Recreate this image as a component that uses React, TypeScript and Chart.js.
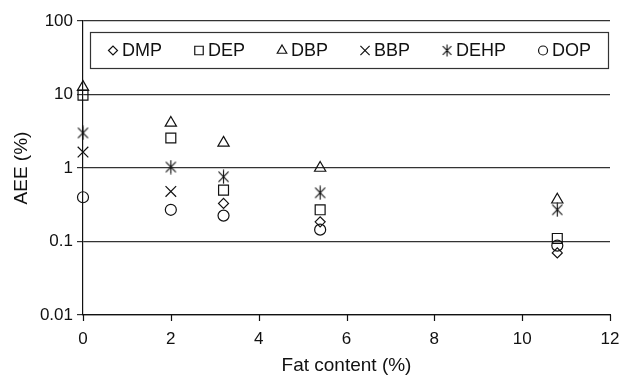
import React, { useEffect, useRef } from "react";
import { Chart, registerables } from "chart.js";
import { drawPoint } from "chart.js/helpers";

Chart.register(...registerables);

const fatContent = [0, 2, 3.2, 5.4, 10.8];
const seriesNames = ["DMP", "DEP", "DBP", "BBP", "DEHP", "DOP"];
const dmp = [null, null, 0.33, 0.185, 0.07];
const dep = [9.8, 2.56, 0.5, 0.27, 0.11];
const dbp = [12.6, 4.1, 2.2, 1.0, 0.37];
const bbp = [1.65, 0.48, null, null, null];
const dehp = [3.0, 1.03, 0.76, 0.46, 0.27];
const dop = [0.4, 0.27, 0.225, 0.145, 0.088];
const yTicks = [0.01, 0.1, 1, 10, 100];
const xTicks = [0, 2, 4, 6, 8, 10, 12];

const FONT = "'Liberation Sans', Arial, Helvetica, sans-serif";
const INK = "#111";

function asteriskCanvas(size: number, lw: number) {
  const c = document.createElement("canvas");
  c.width = size;
  c.height = size;
  const g = c.getContext("2d")!;
  g.strokeStyle = "#111";
  g.lineWidth = lw;
  const m = size / 2;
  const r = size / 2 - 0.5;
  const d = r * 0.72;
  g.beginPath();
  g.moveTo(m, m - r);
  g.lineTo(m, m + r);
  g.moveTo(m - d, m - d);
  g.lineTo(m + d, m + d);
  g.moveTo(m + d, m - d);
  g.lineTo(m - d, m + d);
  g.stroke();
  return c;
}

export default function App() {
  const ref = useRef<HTMLCanvasElement | null>(null);
  useEffect(() => {
    if (!ref.current) return;
    const star = asteriskCanvas(15, 1.15);
    const starSmall = asteriskCanvas(13, 1.1);
    const styles: any[] = ["rectRot", "rect", "triangle", "crossRot", star, "circle"];
    const radii = [5, 7, 6.5, 7.5, 7, 5.5];
    const legendStyles: any[] = ["rectRot", "rect", "triangle", "crossRot", starSmall, "circle"];
    const legendRadii = [4.5, 6, 5.5, 6.5, 6, 4.5];
    const values = [dmp, dep, dbp, bbp, dehp, dop];

    const datasets = seriesNames.map((name, i) => ({
      label: name,
      data: fatContent.map((x, j) => ({ x, y: values[i][j] })).filter((p) => p.y !== null),
      pointStyle: styles[i],
      pointRadius: radii[i],
      pointBorderColor: INK,
      pointBackgroundColor: "rgba(0,0,0,0)",
      pointBorderWidth: 1.2,
      showLine: false,
      clip: false,
    }));

    const decorPlugin = {
      id: "decor",
      afterDraw(chart: any) {
        const ctx = chart.ctx;
        const xs = chart.scales.x;
        const area = chart.chartArea;
        ctx.save();
        ctx.strokeStyle = INK;
        ctx.lineWidth = 1.2;
        ctx.beginPath();
        xTicks.forEach((v) => {
          const px = Math.round(xs.getPixelForValue(v)) + 0.5;
          ctx.moveTo(px, area.bottom);
          ctx.lineTo(px, area.bottom + 6);
        });
        ctx.stroke();
        ctx.fillStyle = "#fff";
        ctx.fillRect(90.5, 32.5, 518, 36);
        ctx.strokeStyle = "#333";
        ctx.lineWidth = 1.2;
        ctx.strokeRect(90.5, 32.5, 518, 36);
        ctx.font = `18px ${FONT}`;
        ctx.textBaseline = "middle";
        let x = 113;
        const y = 50.5;
        seriesNames.forEach((name, i) => {
          ctx.strokeStyle = INK;
          ctx.fillStyle = "rgba(0,0,0,0)";
          ctx.lineWidth = 1.2;
          drawPoint(ctx, { pointStyle: legendStyles[i], radius: legendRadii[i], rotation: 0, borderWidth: 1.2 } as any, x, y);
          ctx.fillStyle = INK;
          ctx.fillText(name, x + 9, y + 1);
          const w = ctx.measureText(name).width;
          x = x + 9 + w + 37;
        });
        ctx.restore();
      },
    };

    const chart = new Chart(ref.current, {
      type: "scatter",
      data: { datasets: datasets as any },
      plugins: [decorPlugin],
      options: {
        animation: false,
        responsive: false,
        maintainAspectRatio: false,
        layout: { padding: { top: 21, right: 11, left: 0, bottom: 0 } },
        plugins: { legend: { display: false }, tooltip: { enabled: false } },
        scales: {
          x: {
            type: "linear",
            min: 0,
            max: 12,
            afterBuildTicks: (s: any) => {
              s.ticks = xTicks.map((v) => ({ value: v }));
            },
            afterFit: (s: any) => {
              s.height = 65;
              s.paddingRight = 0;
              s.paddingLeft = 0;
            },
            grid: { display: false, drawTicks: false },
            border: { color: INK, width: 1.2 },
            ticks: { color: INK, font: { family: FONT, size: 17 }, padding: 14, maxRotation: 0 },
            title: {
              display: true,
              text: "Fat content (%)",
              color: INK,
              font: { family: FONT, size: 19 },
              padding: { top: 0, bottom: 3 },
            },
          },
          y: {
            type: "logarithmic",
            min: 0.01,
            max: 100,
            afterBuildTicks: (s: any) => {
              s.ticks = yTicks.map((v) => ({ value: v }));
            },
            afterFit: (s: any) => {
              s.width = 83;
            },
            grid: { drawOnChartArea: true, drawTicks: true, tickLength: 6, color: "#333", lineWidth: 1.2 },
            border: { color: INK, width: 1.2 },
            ticks: {
              color: INK,
              font: { family: FONT, size: 17 },
              padding: 4,
              callback: (v: any) => String(v),
            },
            title: {
              display: true,
              text: "AEE (%)",
              color: INK,
              font: { family: FONT, size: 19 },
              padding: { top: 10, bottom: 0 },
            },
          },
        },
      },
    });
    return () => chart.destroy();
  }, []);

  return (
    <div style={{ position: "fixed", left: 0, top: 0, width: 621, height: 380, background: "#fff" }}>
      <canvas ref={ref} width={621} height={380} style={{ width: 621, height: 380 }} />
    </div>
  );
}
